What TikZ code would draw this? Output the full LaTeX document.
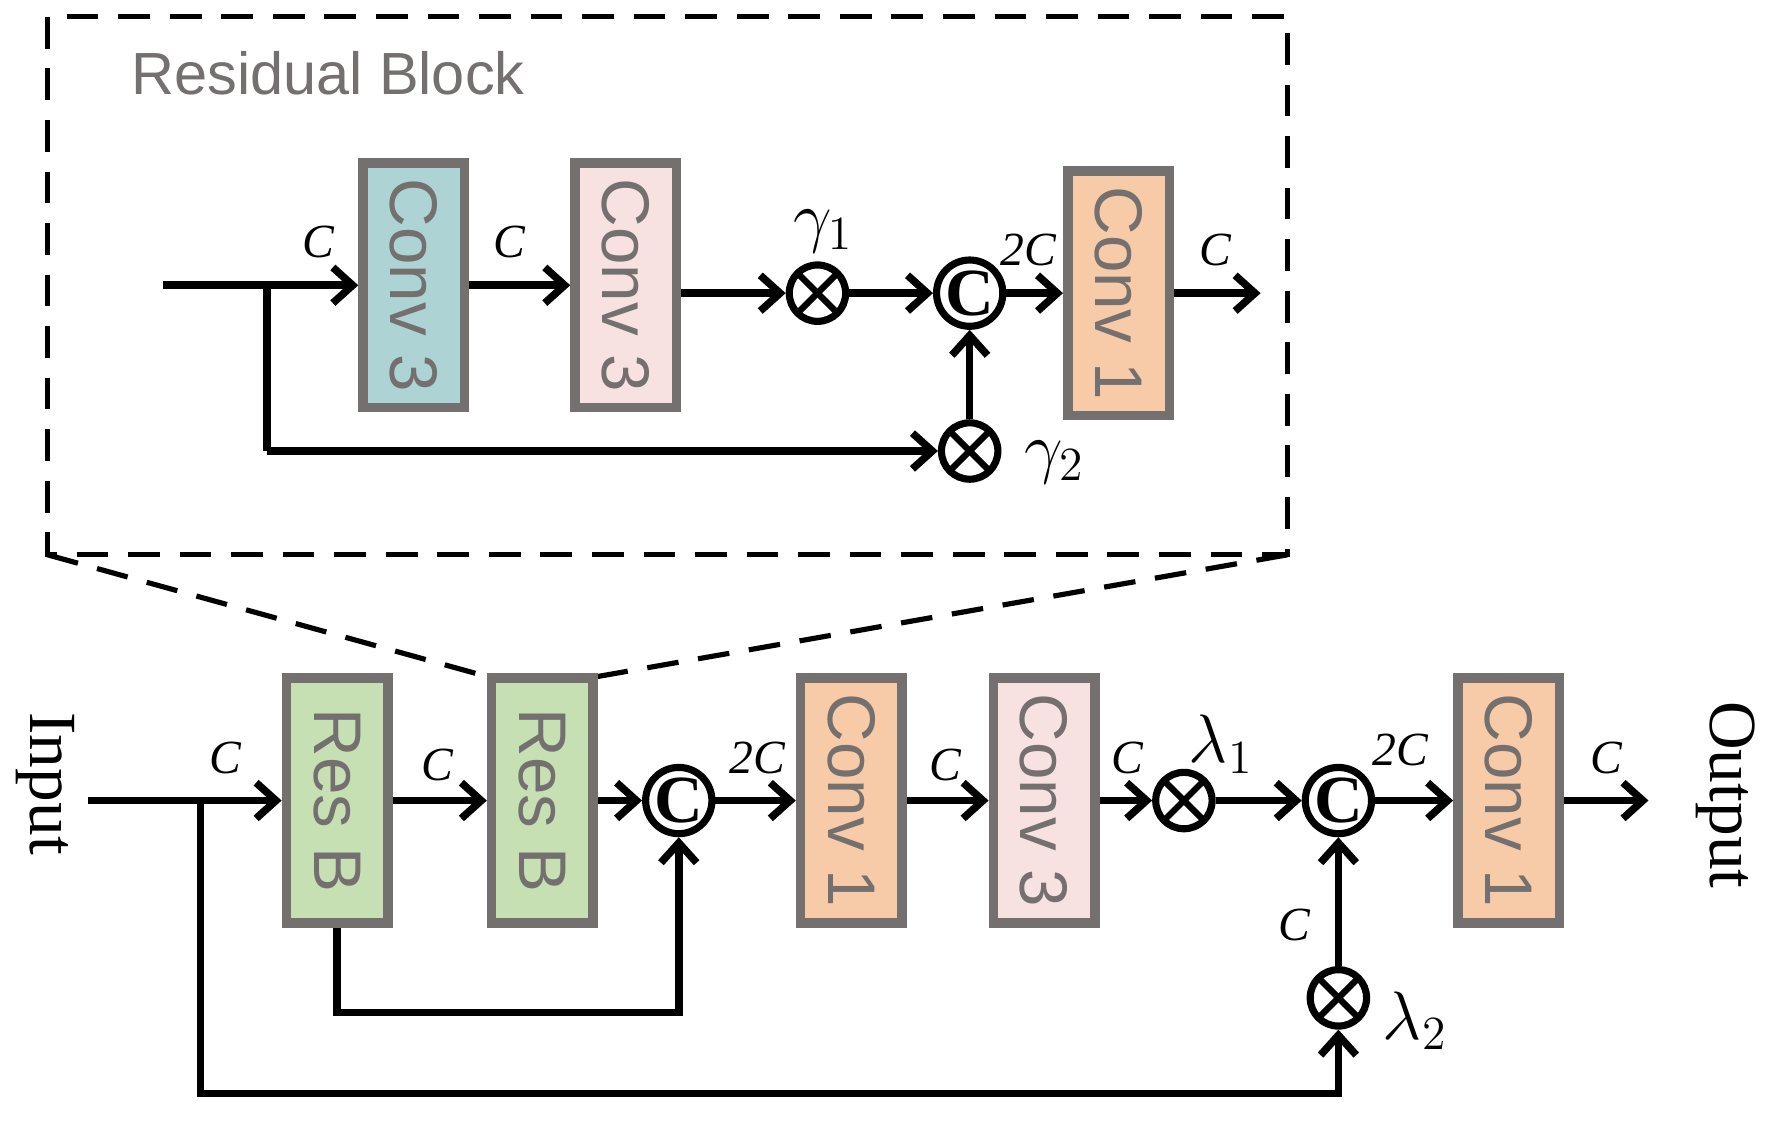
\documentclass[tikz,border=0pt]{standalone}
\usepackage{fontspec}
\setmainfont{Liberation Serif}
\newfontfamily\sansf{Liberation Sans}
\usetikzlibrary{arrows.meta}
\definecolor{teal}{HTML}{ADD3D5}
\definecolor{pinkc}{HTML}{F8E1E1}
\definecolor{orangec}{HTML}{F8CBA8}
\definecolor{greenc}{HTML}{C6E0B4}
\definecolor{bord}{HTML}{757070}
\begin{document}
\begin{tikzpicture}[x=0.01cm,y=-0.01cm,
 blk/.style={draw=bord,line width=2.4pt,minimum height=0.9cm,minimum width=2.17cm,inner sep=0pt,
   font=\sansf\fontsize{17}{18}\selectfont,text=bord},
 ar/.style={line width=1.9pt,-{Straight Barb[length=5pt,width=9pt]}},
 ln/.style={line width=1.9pt},
 ot/.style={circle,draw,line width=1.8pt,minimum size=0.5cm,inner sep=0pt,path picture={
   \draw[line width=1.6pt] (path picture bounding box.north west)--(path picture bounding box.south east);
   \draw[line width=1.6pt] (path picture bounding box.north east)--(path picture bounding box.south west);}},
 cc/.style={circle,draw,line width=1.8pt,minimum size=0.5cm,inner sep=0pt,font=\bfseries\fontsize{17}{17}\selectfont},
 lab/.style={font=\itshape\fontsize{12}{12}\selectfont},
 gl/.style={font=\fontsize{18}{18}\selectfont}]
\useasboundingbox (0,0) rectangle (1568,997);
% dashed box
\draw[dashed,line width=1.3pt,dash pattern=on 8pt off 5pt] (42,15) rectangle (1142,492);
\node[anchor=west,font=\sansf\fontsize{15}{16}\selectfont,text=bord] (rbt) at (104,65) {Residual Block};
% top blocks
\node[blk,fill=teal,rotate=-90] (t1) at (367,253) {Conv 3};
\node[blk,fill=pinkc,rotate=-90] (t2) at (555,253) {Conv 3};
\node[ot] (tg1) at (725,260) {};
\node[cc] (tc) at (860,260) {C};
\node[blk,fill=orangec,rotate=-90] (t3) at (992,260) {Conv 1};
\node[ot] (tg2) at (860,400) {};
\coordinate (tin) at (145,253);
\coordinate (tb) at (237,253);
\coordinate (tout) at (1118,260);
\draw[ln] (tin) -- (tb);
\draw[ar] (tb) -- (t1.south);
\draw[ar] (t1.north) -- (t2.south);
\draw[ar] (t2.north |- tg1) -- (tg1);
\draw[ar] (tg1) -- (tc);
\draw[ar] (tc) -- (t3.south |- tc);
\draw[ar] (t3.north |- tout) -- (tout);
\draw[ln] (tb) -- (237,400) coordinate (tb2);
\draw[ar] (tb2) -- (tg2);
\draw[ar] (tg2) -- (tc);
\node[lab] at (282,215) {C};
\node[lab] at (452,215) {C};
\node[lab] at (912,222) {2C};
\node[lab] at (1078,222) {C};
\node[gl] at (730,205) {$\gamma_1$};
\node[gl] at (935,410) {$\gamma_2$};
% zoom lines
\draw[dashed,line width=1.3pt,dash pattern=on 8pt off 5pt] (42,492) -- (432,600);
\draw[dashed,line width=1.3pt,dash pattern=on 8pt off 5pt] (1142,492) -- (530,600);
% bottom
\node[rotate=-90,font=\fontsize{17}{17}\selectfont] (inp) at (40,695) {Input};
\node[rotate=-90,font=\fontsize{17}{17}\selectfont] (outp) at (1530,705) {Output};
\node[blk,fill=greenc,rotate=-90] (b1) at (299,710) {Res B};
\node[blk,fill=greenc,rotate=-90] (b2) at (481,710) {Res B};
\node[cc] (bc1) at (602,710) {C};
\node[blk,fill=orangec,rotate=-90] (b3) at (755,710) {Conv 1};
\node[blk,fill=pinkc,rotate=-90] (b4) at (926,710) {Conv 3};
\node[ot] (bl1) at (1050,710) {};
\node[cc] (bc2) at (1187,710) {C};
\node[blk,fill=orangec,rotate=-90] (b5) at (1338,710) {Conv 1};
\node[ot] (bl2) at (1187,885) {};
\coordinate (bin) at (78,710);
\coordinate (bb) at (178,710);
\coordinate (bout) at (1462,710);
\draw[ln] (bin) -- (bb);
\draw[ar] (bb) -- (b1.south);
\draw[ar] (b1.north) -- (b2.south);
\draw[ar] (b2.north) -- (bc1);
\draw[ar] (bc1) -- (b3.south);
\draw[ar] (b3.north) -- (b4.south);
\draw[ar] (b4.north) -- (bl1);
\draw[ar] (bl1) -- (bc2);
\draw[ar] (bc2) -- (b5.south);
\draw[ar] (b5.north) -- (bout);
\draw[ar] (b1.east) -- (b1.east |- 0,898) -- (602,898) -- (bc1);
\draw[ar] (bb) -- (178,970) -- (1187,970) -- (bl2);
\draw[ar] (bl2) -- (bc2);
\node[lab] at (200,672) {C};
\node[lab] at (388,678) {C};
\node[lab] at (672,672) {2C};
\node[lab] at (838,678) {C};
\node[lab] at (1000,672) {C};
\node[lab] at (1242,665) {2C};
\node[lab] at (1425,672) {C};
\node[lab] at (1148,820) {C};
\node[gl] at (1083,660) {$\lambda_1$};
\node[gl] at (1255,905) {$\lambda_2$};
\end{tikzpicture}
\end{document}
